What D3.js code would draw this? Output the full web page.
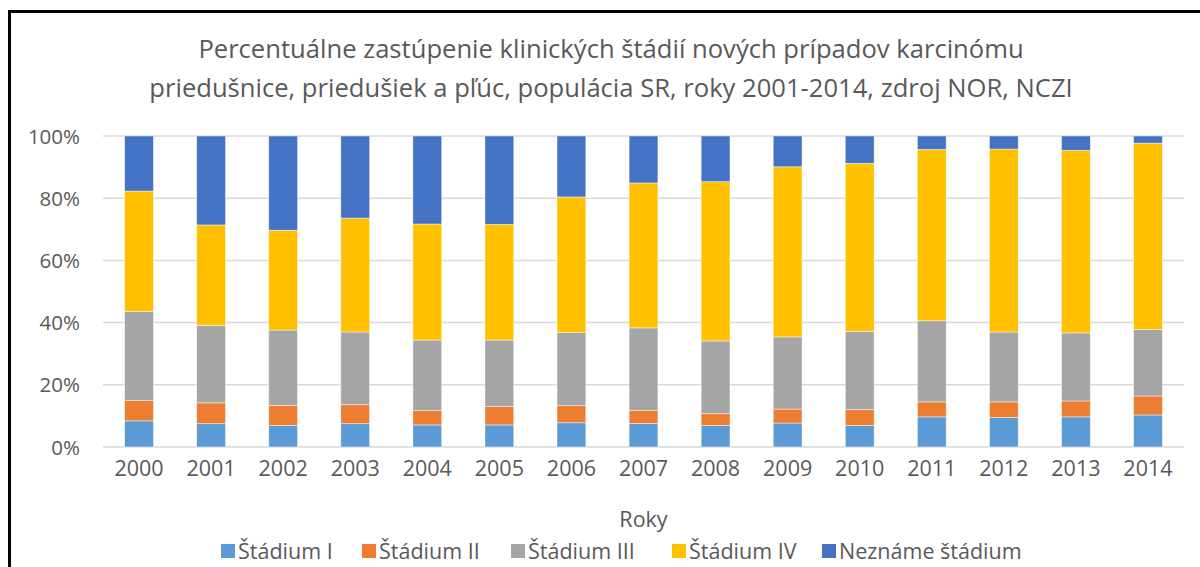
<!DOCTYPE html>
<html>
<head>
<meta charset="utf-8">
<script src="https://cdn.jsdelivr.net/npm/d3@7"></script>
<style>
  body { margin: 0; background: #fff; }
  text { font-family: "Open Sans", sans-serif; fill: #595959; }
</style>
</head>
<body>
<div id="chart"></div>
<script>
// Data (percent of each year)
const years = ["2000","2001","2002","2003","2004","2005","2006","2007","2008","2009","2010","2011","2012","2013","2014"];
const seriesNames = ["Štádium I", "Štádium II", "Štádium III", "Štádium IV", "Neznáme štádium"];
const stadium1 = [8.4, 7.5, 6.9, 7.5, 7.1, 7.1, 7.8, 7.6, 6.9, 7.7, 6.9, 9.7, 9.5, 9.7, 10.3];
const stadium2 = [6.5, 6.7, 6.5, 6.1, 4.6, 5.9, 5.5, 4.2, 3.8, 4.5, 5.1, 4.8, 5.0, 5.1, 6.1];
const stadium3 = [28.7, 24.9, 24.2, 23.4, 22.7, 21.4, 23.5, 26.5, 23.4, 23.2, 25.2, 26.1, 22.5, 21.9, 21.4];
const stadium4 = [38.7, 32.3, 32.1, 36.6, 37.3, 37.2, 43.6, 46.6, 51.2, 54.7, 54.0, 55.1, 58.8, 58.7, 59.9];
const unknown  = [17.7, 28.6, 30.3, 26.4, 28.3, 28.4, 19.6, 15.1, 14.7, 9.9, 8.8, 4.3, 4.2, 4.6, 2.3];
const yTicks = [0, 0.2, 0.4, 0.6, 0.8, 1];
const colors = ["#5B9BD5", "#ED7D31", "#A5A5A5", "#FFC000", "#4472C4"];

const W = 1200, H = 567;
const margin = {top: 136, right: 16, bottom: 120, left: 103};
const width = W - margin.left - margin.right,
      height = 447 - margin.top;

const table = years.map((y, i) => {
  const row = {year: y};
  const vals = [stadium1[i], stadium2[i], stadium3[i], stadium4[i], unknown[i]];
  const tot = d3.sum(vals);
  seriesNames.forEach((s, k) => row[s] = vals[k] / tot);
  return row;
});
const stacked = d3.stack().keys(seriesNames)(table);

const svg = d3.select("#chart").append("svg")
  .attr("width", W).attr("height", H);

// outer frame
svg.append("rect")
  .attr("x", 9.5).attr("y", 11.5)
  .attr("width", W + 20).attr("height", H + 20)
  .attr("fill", "#fff").attr("stroke", "#000").attr("stroke-width", 3);

// title
const title = svg.append("text")
  .attr("text-anchor", "middle")
  .attr("font-size", 25.6);
title.append("tspan").attr("x", 611).attr("y", 58)
  .text("Percentuálne zastúpenie klinických štádií nových prípadov karcinómu");
title.append("tspan").attr("x", 611).attr("y", 97)
  .text("priedušnice, priedušiek a pľúc, populácia SR, roky 2001-2014, zdroj NOR, NCZI");

const g = svg.append("g").attr("transform", `translate(${margin.left},${margin.top})`);

const x = d3.scaleBand().domain(years).range([0, width]).paddingInner(0.6).paddingOuter(0.3);
const y = d3.scaleLinear().domain([0, 1]).range([height, 0]);

// gridlines
g.append("g").selectAll("line").data(yTicks).join("line")
  .attr("x1", 0).attr("x2", width)
  .attr("y1", d => y(d)).attr("y2", d => y(d))
  .attr("stroke", "#d9d9d9").attr("stroke-width", 1.5);

// y axis
const yAxis = g.append("g")
  .call(d3.axisLeft(y).tickValues(yTicks).tickFormat(d3.format(".0%")).tickSize(0).tickPadding(23));
yAxis.select(".domain").remove();
yAxis.selectAll("text").attr("font-size", 20.5).attr("dy", "0.35em");

// bars
g.append("g").selectAll("g").data(stacked).join("g")
  .attr("fill", (d, i) => colors[i])
  .selectAll("rect").data(d => d).join("rect")
  .attr("x", d => x(d.data.year))
  .attr("y", d => y(d[1]))
  .attr("height", d => y(d[0]) - y(d[1]))
  .attr("width", x.bandwidth())
  .attr("stroke", "#fff").attr("stroke-opacity", 0.6).attr("stroke-width", 0.75);

// x axis
const xAxis = g.append("g").attr("transform", `translate(0,${height})`)
  .call(d3.axisBottom(x).tickSize(0).tickPadding(14));
xAxis.select(".domain").remove();
xAxis.selectAll("text").attr("font-size", 21.5);

// axis title
svg.append("text")
  .attr("x", margin.left + width / 2).attr("y", 527)
  .attr("text-anchor", "middle").attr("font-size", 21.5)
  .text("Roky");

// legend
const legendX = [221, 362, 511, 672, 822];
const legend = svg.append("g").selectAll("g").data(seriesNames).join("g")
  .attr("transform", (d, i) => `translate(${legendX[i]},550)`);
legend.append("rect").attr("x", 0).attr("y", -6).attr("width", 14).attr("height", 14)
  .attr("fill", (d, i) => colors[i]);
legend.append("text").attr("x", 17).attr("y", 1).attr("dy", "0.35em")
  .attr("font-size", 21.5).text(d => d);
</script>
</body>
</html>
